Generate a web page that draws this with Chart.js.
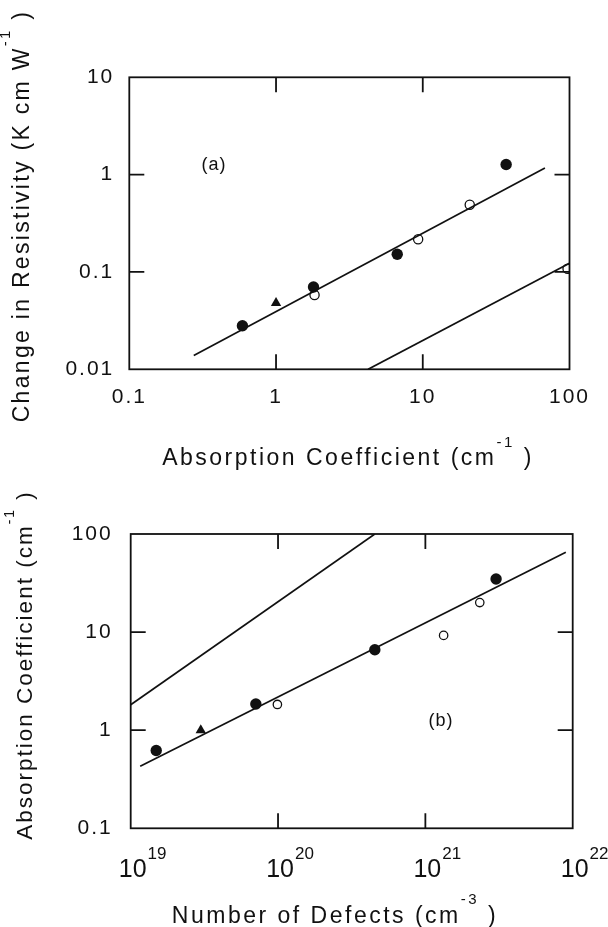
<!DOCTYPE html>
<html>
<head>
<meta charset="utf-8">
<script src="https://cdn.jsdelivr.net/npm/chart.js@4.4.1/dist/chart.umd.min.js"></script>
<style>
  html, body { margin: 0; padding: 0; background: #fff; }
  #wrap { position: relative; width: 608px; height: 927px; overflow: hidden; }
  canvas { position: absolute; left: 0; }
  #chartA { top: 0; }
  #chartB { top: 463px; }
</style>
</head>
<body>
<div id="wrap">
  <canvas id="chartA" width="608" height="480"></canvas>
  <canvas id="chartB" width="608" height="464"></canvas>
</div>
<script>
// panel (a): change in resistivity vs absorption coefficient
var aXTicks = [0.1, 1, 10, 100];
var aXLabels = ["0.1", "1", "10", "100"];
var aYTicks = [0.01, 0.1, 1, 10];
var aYLabels = ["0.01", "0.1", "1", "10"];
var aFilledX = [0.59, 1.8, 6.7, 37];
var aFilledY = [0.028, 0.07, 0.152, 1.27];
var aOpenX = [1.83, 9.3, 20.9, 97];
var aOpenY = [0.058, 0.217, 0.49, 0.108];
var aTriangleX = [1.0];
var aTriangleY = [0.048];
var aFitX = [0.275, 68];
var aFitY = [0.0139, 1.17];
var aFit2X = [4.24, 100];
var aFit2Y = [0.01, 0.123];

// panel (b): absorption coefficient vs number of defects
var bXTicks = [1e19, 1e20, 1e21, 1e22];
var bXExponents = ["19", "20", "21", "22"];
var bYTicks = [0.1, 1, 10, 100];
var bYLabels = ["0.1", "1", "10", "100"];
var bFilledX = [1.49e19, 7.07e19, 4.54e20, 3.02e21];
var bFilledY = [0.62, 1.85, 6.6, 34.8];
var bOpenX = [9.9e19, 1.33e21, 2.34e21];
var bOpenY = [1.83, 9.25, 20.0];
var bTriangleX = [2.99e19];
var bTriangleY = [1.0];
var bFitX = [1.16e19, 8.98e21];
var bFitY = [0.43, 65];
var bFit2X = [1e19, 4.54e20];
var bFit2Y = [1.82, 100];

var ink = "#111";
var family = "'Liberation Sans', Arial, Helvetica, sans-serif";

function pts(xs, ys) {
  return xs.map(function (x, i) { return { x: x, y: ys[i] }; });
}

// text with superscript pieces, centred on x, baseline at y
function richText(ctx, parts, x, y, rot, size, spacing) {
  ctx.save();
  ctx.translate(x, y);
  ctx.rotate(rot);
  ctx.fillStyle = ink;
  ctx.textBaseline = "alphabetic";
  ctx.textAlign = "left";
  ctx.letterSpacing = spacing + "px";
  var w = 0;
  parts.forEach(function (p) {
    ctx.font = (p[1] ? Math.round(size * 0.64) : size) + "px " + family;
    w += ctx.measureText(p[0]).width;
  });
  var cx = -w / 2;
  parts.forEach(function (p) {
    ctx.font = (p[1] ? Math.round(size * 0.64) : size) + "px " + family;
    ctx.fillText(p[0], cx, p[1] ? -size * 0.8 : 0);
    cx += ctx.measureText(p[0]).width;
  });
  ctx.restore();
}

var framePlugin = {
  id: "frame",
  beforeDraw: function (chart) {
    chart.ctx.letterSpacing = "2px";
  },
  afterDatasetsDraw: function (chart, args, opts) {
    var ctx = chart.ctx, a = chart.chartArea;
    var xs = chart.scales.x, ys = chart.scales.y;
    ctx.save();
    ctx.strokeStyle = ink;
    ctx.lineWidth = 1.8;
    ctx.strokeRect(a.left, a.top, a.right - a.left, a.bottom - a.top);
    ctx.beginPath();
    opts.xMarks.forEach(function (v) {
      var px = xs.getPixelForValue(v);
      ctx.moveTo(px, a.bottom); ctx.lineTo(px, a.bottom - 15);
      ctx.moveTo(px, a.top); ctx.lineTo(px, a.top + 15);
    });
    opts.yMarks.forEach(function (v) {
      var py = ys.getPixelForValue(v);
      ctx.moveTo(a.left, py); ctx.lineTo(a.left + 15, py);
      ctx.moveTo(a.right, py); ctx.lineTo(a.right - 15, py);
    });
    ctx.stroke();
    ctx.restore();
  }
};

var notesPlugin = {
  id: "notes",
  afterDraw: function (chart, args, opts) {
    var ctx = chart.ctx;
    richText(ctx, opts.xTitle, opts.xTitleAt[0], opts.xTitleAt[1], 0, 23, 2.5);
    richText(ctx, opts.yTitle, opts.yTitleAt[0], opts.yTitleAt[1], -Math.PI / 2, opts.ySize, opts.ySpacing);
    ctx.save();
    ctx.fillStyle = ink;
    ctx.font = "18px " + family;
    ctx.textAlign = "center";
    ctx.textBaseline = "middle";
    ctx.letterSpacing = "1px";
    ctx.fillText(opts.tag, opts.tagAt[0], opts.tagAt[1]);
    ctx.restore();
    if (opts.powers) {
      // tick labels written as 10 with a raised exponent
      var xs = chart.scales.x;
      ctx.save();
      ctx.fillStyle = ink;
      ctx.letterSpacing = "0px";
      ctx.textBaseline = "alphabetic";
      opts.powers.forEach(function (e, i) {
        var px = xs.getPixelForValue(bXTicks[i]) + 2;
        ctx.font = "25px " + family;
        ctx.textAlign = "center";
        ctx.fillText("10", px, opts.powersY);
        var half = ctx.measureText("10").width / 2;
        ctx.font = "17px " + family;
        ctx.textAlign = "left";
        ctx.fillText(e, px + half + 1, opts.powersY - 17.5);
      });
      ctx.restore();
    }
  }
};

function lineSet(xs, ys) {
  return { data: pts(xs, ys), showLine: true, borderColor: ink, borderWidth: 1.7, pointRadius: 0, fill: false };
}
function filledSet(xs, ys) {
  return { data: pts(xs, ys), pointStyle: "circle", pointRadius: 5.7, pointBackgroundColor: ink, pointBorderColor: ink, pointBorderWidth: 0 };
}
function openSet(xs, ys, r) {
  return { data: pts(xs, ys), pointStyle: "circle", pointRadius: r, pointBackgroundColor: "#fff", pointBorderColor: ink, pointBorderWidth: 1.3, clip: 0 };
}
function triangleSet(xs, ys) {
  return { data: pts(xs, ys), pointStyle: "triangle", pointRadius: 6, pointBackgroundColor: ink, pointBorderColor: ink, pointBorderWidth: 0 };
}

function logAxis(pos, min, max, ticks, labels, pad, size, show) {
  return {
    type: "logarithmic",
    position: pos,
    min: min,
    max: max,
    grid: { display: false, drawTicks: false },
    border: { display: false },
    afterBuildTicks: function (s) {
      s.ticks = ticks.map(function (v) { return { value: v }; });
    },
    afterFit: function (s) {
      if (pos === "left") s.width = size; else s.height = size;
    },
    ticks: {
      display: show,
      autoSkip: false,
      maxRotation: 0,
      padding: pad,
      color: ink,
      font: { family: family, size: 21 },
      callback: function (v, i) { return labels[i]; }
    }
  };
}

new Chart(document.getElementById("chartA"), {
  type: "scatter",
  data: {
    datasets: [
      lineSet(aFitX, aFitY),
      lineSet(aFit2X, aFit2Y),
      filledSet(aFilledX, aFilledY),
      openSet(aOpenX, aOpenY, 4.6),
      triangleSet(aTriangleX, aTriangleY)
    ]
  },
  options: {
    responsive: false,
    animation: false,
    layout: { padding: { top: 77.3, right: 38.5, bottom: 0, left: 0 } },
    plugins: {
      legend: { display: false },
      tooltip: { enabled: false },
      frame: { xMarks: aXTicks.slice(1, -1), yMarks: aYTicks.slice(1, -1) },
      notes: {
        xTitle: [["Absorption Coefficient (cm", 0], ["-1", 1], [" )", 0]],
        xTitleAt: [348, 465],
        yTitle: [["Change in Resistivity (K cm W", 0], ["-1", 1], [" )", 0]],
        yTitleAt: [28.5, 216],
        ySize: 23,
        ySpacing: 2.3,
        tag: "(a)",
        tagAt: [214, 165]
      }
    },
    scales: {
      x: logAxis("bottom", 0.1, 100, aXTicks, aXLabels, 15, 480 - 369.3, true),
      y: logAxis("left", 0.01, 10, aYTicks, aYLabels, 15, 129.3, true)
    }
  },
  plugins: [framePlugin, notesPlugin]
});

new Chart(document.getElementById("chartB"), {
  type: "scatter",
  data: {
    datasets: [
      lineSet(bFitX, bFitY),
      lineSet(bFit2X, bFit2Y),
      filledSet(bFilledX, bFilledY),
      openSet(bOpenX, bOpenY, 4.2),
      triangleSet(bTriangleX, bTriangleY)
    ]
  },
  options: {
    responsive: false,
    animation: false,
    layout: { padding: { top: 71, right: 35.3, bottom: 0, left: 0 } },
    plugins: {
      legend: { display: false },
      tooltip: { enabled: false },
      frame: { xMarks: bXTicks.slice(1, -1), yMarks: bYTicks.slice(1, -1) },
      notes: {
        xTitle: [["Number of Defects (cm", 0], ["-3", 1], [" )", 0]],
        xTitleAt: [335, 459.7],
        yTitle: [["Absorption Coefficient (cm", 0], ["-1", 1], [" )", 0]],
        yTitleAt: [32, 202],
        ySize: 22.5,
        ySpacing: 2,
        tag: "(b)",
        tagAt: [441, 258.3],
        powers: bXExponents,
        powersY: 413.7
      }
    },
    scales: {
      x: logAxis("bottom", 1e19, 1e22, bXTicks, bXExponents, 15, 464 - 365.3, false),
      y: logAxis("left", 0.1, 100, bYTicks, bYLabels, 18, 130.7, true)
    }
  },
  plugins: [framePlugin, notesPlugin]
});
</script>
</body>
</html>
